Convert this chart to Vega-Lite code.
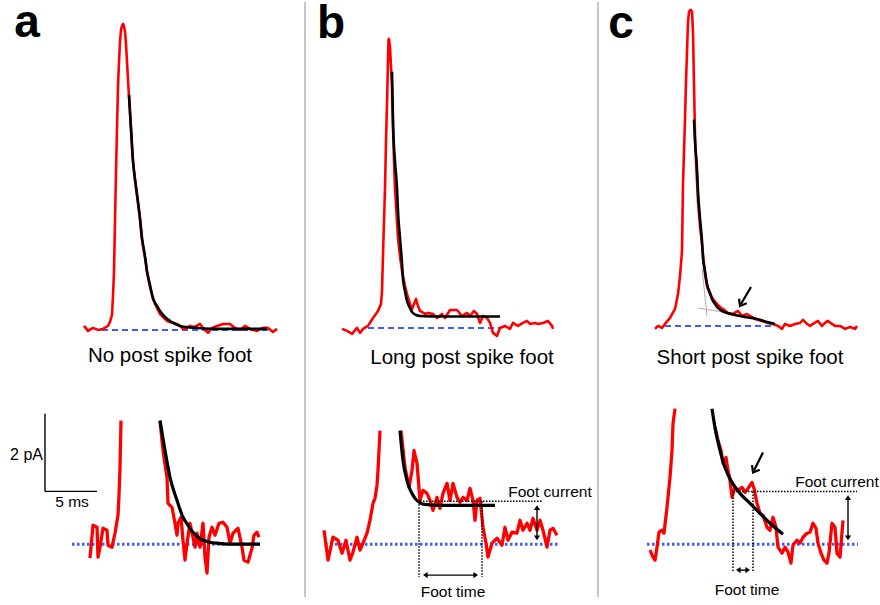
{
  "$schema": "https://vega.github.io/schema/vega-lite/v6.json",
  "width": 880,
  "height": 605,
  "padding": 0,
  "autosize": {"type": "fit", "contains": "padding"},
  "background": "white",
  "config": {"view": {"stroke": null}},
  "datasets": {
    "lines": [
      {"g":"rt","s":"a","x":84,"y":325},{"g":"rt","s":"a","x":88,"y":330},{"g":"rt","s":"a","x":93,"y":327},{"g":"rt","s":"a","x":98,"y":329},{"g":"rt","s":"a","x":103,"y":328},{"g":"rt","s":"a","x":108,"y":325},{"g":"rt","s":"a","x":110,"y":321},{"g":"rt","s":"a","x":112,"y":314},{"g":"rt","s":"a","x":113,"y":295},{"g":"rt","s":"a","x":114,"y":270},{"g":"rt","s":"a","x":115,"y":220},{"g":"rt","s":"a","x":116,"y":170},{"g":"rt","s":"a","x":117,"y":127},{"g":"rt","s":"a","x":118,"y":85},{"g":"rt","s":"a","x":119,"y":60},{"g":"rt","s":"a","x":120,"y":40},{"g":"rt","s":"a","x":121,"y":28},{"g":"rt","s":"a","x":122,"y":24},{"g":"rt","s":"a","x":123,"y":22},{"g":"rt","s":"a","x":124,"y":24},{"g":"rt","s":"a","x":125,"y":30},{"g":"rt","s":"a","x":126,"y":42},{"g":"rt","s":"a","x":127,"y":60},{"g":"rt","s":"a","x":128,"y":78},{"g":"rt","s":"a","x":129,"y":95},{"g":"rt","s":"a","x":131,"y":127},{"g":"rt","s":"a","x":133,"y":160},{"g":"rt","s":"a","x":135,"y":178},{"g":"rt","s":"a","x":137,"y":194},{"g":"rt","s":"a","x":140,"y":218},{"g":"rt","s":"a","x":142,"y":238},{"g":"rt","s":"a","x":145,"y":257},{"g":"rt","s":"a","x":147,"y":271},{"g":"rt","s":"a","x":150,"y":286},{"g":"rt","s":"a","x":153,"y":298},{"g":"rt","s":"a","x":156,"y":305},{"g":"rt","s":"a","x":158,"y":309},{"g":"rt","s":"a","x":160,"y":313},{"g":"rt","s":"a","x":163,"y":316},{"g":"rt","s":"a","x":167,"y":320},{"g":"rt","s":"a","x":170,"y":321},{"g":"rt","s":"a","x":174,"y":322},{"g":"rt","s":"a","x":177,"y":323},{"g":"rt","s":"a","x":180,"y":325},{"g":"rt","s":"a","x":183,"y":328},{"g":"rt","s":"a","x":187,"y":327},{"g":"rt","s":"a","x":190,"y":325},{"g":"rt","s":"a","x":195,"y":326},{"g":"rt","s":"a","x":200,"y":323},{"g":"rt","s":"a","x":203,"y":327},{"g":"rt","s":"a","x":208,"y":332},{"g":"rt","s":"a","x":212,"y":327},{"g":"rt","s":"a","x":217,"y":325},{"g":"rt","s":"a","x":223,"y":323},{"g":"rt","s":"a","x":230,"y":323},{"g":"rt","s":"a","x":235,"y":327},{"g":"rt","s":"a","x":240,"y":329},{"g":"rt","s":"a","x":245,"y":325},{"g":"rt","s":"a","x":250,"y":328},{"g":"rt","s":"a","x":257,"y":330},{"g":"rt","s":"a","x":263,"y":327},{"g":"rt","s":"a","x":268,"y":327},{"g":"rt","s":"a","x":273,"y":331},{"g":"rt","s":"a","x":277,"y":328},

      {"g":"ft","s":"a","x":129,"y":93},{"g":"ft","s":"a","x":131,"y":127},{"g":"ft","s":"a","x":133,"y":160},{"g":"ft","s":"a","x":135,"y":178},{"g":"ft","s":"a","x":137,"y":193},{"g":"ft","s":"a","x":140,"y":217},{"g":"ft","s":"a","x":142,"y":237},{"g":"ft","s":"a","x":145,"y":255},{"g":"ft","s":"a","x":147,"y":270},{"g":"ft","s":"a","x":150,"y":284},{"g":"ft","s":"a","x":153,"y":297},{"g":"ft","s":"a","x":157,"y":305},{"g":"ft","s":"a","x":160,"y":310},{"g":"ft","s":"a","x":165,"y":316},{"g":"ft","s":"a","x":170,"y":320},{"g":"ft","s":"a","x":175,"y":323},{"g":"ft","s":"a","x":180,"y":325},{"g":"ft","s":"a","x":190,"y":326.5},{"g":"ft","s":"a","x":197,"y":327},{"g":"ft","s":"a","x":220,"y":328},{"g":"ft","s":"a","x":267,"y":328},

      {"g":"rt","s":"b","x":342,"y":328},{"g":"rt","s":"b","x":347,"y":330},{"g":"rt","s":"b","x":352,"y":333},{"g":"rt","s":"b","x":357,"y":327},{"g":"rt","s":"b","x":360,"y":332},{"g":"rt","s":"b","x":363,"y":328},{"g":"rt","s":"b","x":368,"y":325},{"g":"rt","s":"b","x":373,"y":317},{"g":"rt","s":"b","x":378,"y":310},{"g":"rt","s":"b","x":381,"y":303},{"g":"rt","s":"b","x":382,"y":290},{"g":"rt","s":"b","x":383,"y":253},{"g":"rt","s":"b","x":384,"y":220},{"g":"rt","s":"b","x":385,"y":187},{"g":"rt","s":"b","x":386,"y":140},{"g":"rt","s":"b","x":387,"y":103},{"g":"rt","s":"b","x":388,"y":60},{"g":"rt","s":"b","x":388.5,"y":38},{"g":"rt","s":"b","x":389,"y":37},{"g":"rt","s":"b","x":390,"y":45},{"g":"rt","s":"b","x":391,"y":65},{"g":"rt","s":"b","x":392,"y":87},{"g":"rt","s":"b","x":393,"y":125},{"g":"rt","s":"b","x":394,"y":160},{"g":"rt","s":"b","x":395,"y":187},{"g":"rt","s":"b","x":397,"y":220},{"g":"rt","s":"b","x":398,"y":237},{"g":"rt","s":"b","x":400,"y":255},{"g":"rt","s":"b","x":402,"y":270},{"g":"rt","s":"b","x":405,"y":285},{"g":"rt","s":"b","x":407,"y":293},{"g":"rt","s":"b","x":410,"y":303},{"g":"rt","s":"b","x":412,"y":308},{"g":"rt","s":"b","x":414,"y":303},{"g":"rt","s":"b","x":416,"y":298},{"g":"rt","s":"b","x":418,"y":305},{"g":"rt","s":"b","x":420,"y":310},{"g":"rt","s":"b","x":425,"y":313},{"g":"rt","s":"b","x":428,"y":312},{"g":"rt","s":"b","x":433,"y":313},{"g":"rt","s":"b","x":437,"y":317},{"g":"rt","s":"b","x":442,"y":313},{"g":"rt","s":"b","x":445,"y":317},{"g":"rt","s":"b","x":450,"y":309},{"g":"rt","s":"b","x":457,"y":309},{"g":"rt","s":"b","x":462,"y":315},{"g":"rt","s":"b","x":467,"y":312},{"g":"rt","s":"b","x":470,"y":315},{"g":"rt","s":"b","x":474,"y":310},{"g":"rt","s":"b","x":477,"y":313},{"g":"rt","s":"b","x":480,"y":322},{"g":"rt","s":"b","x":483,"y":315},{"g":"rt","s":"b","x":487,"y":317},{"g":"rt","s":"b","x":490,"y":322},{"g":"rt","s":"b","x":493,"y":332},{"g":"rt","s":"b","x":497,"y":335},{"g":"rt","s":"b","x":500,"y":327},{"g":"rt","s":"b","x":505,"y":325},{"g":"rt","s":"b","x":510,"y":328},{"g":"rt","s":"b","x":513,"y":322},{"g":"rt","s":"b","x":518,"y":325},{"g":"rt","s":"b","x":523,"y":322},{"g":"rt","s":"b","x":527,"y":320},{"g":"rt","s":"b","x":530,"y":323},{"g":"rt","s":"b","x":535,"y":322},{"g":"rt","s":"b","x":538,"y":323},{"g":"rt","s":"b","x":543,"y":322},{"g":"rt","s":"b","x":548,"y":320},{"g":"rt","s":"b","x":552,"y":325},{"g":"rt","s":"b","x":553,"y":328},

      {"g":"ft","s":"b","x":392,"y":70},{"g":"ft","s":"b","x":393,"y":120},{"g":"ft","s":"b","x":395,"y":160},{"g":"ft","s":"b","x":397,"y":187},{"g":"ft","s":"b","x":398,"y":210},{"g":"ft","s":"b","x":400,"y":237},{"g":"ft","s":"b","x":402,"y":262},{"g":"ft","s":"b","x":403,"y":278},{"g":"ft","s":"b","x":405,"y":290},{"g":"ft","s":"b","x":407,"y":300},{"g":"ft","s":"b","x":410,"y":307},{"g":"ft","s":"b","x":412,"y":311},{"g":"ft","s":"b","x":416,"y":314},{"g":"ft","s":"b","x":420,"y":315},{"g":"ft","s":"b","x":440,"y":315.5},{"g":"ft","s":"b","x":500,"y":315.5},

      {"g":"rt","s":"c","x":655,"y":328},{"g":"rt","s":"c","x":658,"y":325},{"g":"rt","s":"c","x":662,"y":327},{"g":"rt","s":"c","x":665,"y":323},{"g":"rt","s":"c","x":670,"y":317},{"g":"rt","s":"c","x":675,"y":308},{"g":"rt","s":"c","x":678,"y":293},{"g":"rt","s":"c","x":680,"y":275},{"g":"rt","s":"c","x":682,"y":250},{"g":"rt","s":"c","x":683,"y":183},{"g":"rt","s":"c","x":684,"y":150},{"g":"rt","s":"c","x":685,"y":117},{"g":"rt","s":"c","x":686,"y":80},{"g":"rt","s":"c","x":687,"y":50},{"g":"rt","s":"c","x":688,"y":20},{"g":"rt","s":"c","x":689,"y":10},{"g":"rt","s":"c","x":690,"y":8},{"g":"rt","s":"c","x":691,"y":8},{"g":"rt","s":"c","x":692,"y":10},{"g":"rt","s":"c","x":693,"y":30},{"g":"rt","s":"c","x":694,"y":83},{"g":"rt","s":"c","x":695,"y":133},{"g":"rt","s":"c","x":696,"y":160},{"g":"rt","s":"c","x":698,"y":200},{"g":"rt","s":"c","x":700,"y":225},{"g":"rt","s":"c","x":702,"y":243},{"g":"rt","s":"c","x":705,"y":273},{"g":"rt","s":"c","x":707,"y":285},{"g":"rt","s":"c","x":710,"y":293},{"g":"rt","s":"c","x":713,"y":298},{"g":"rt","s":"c","x":717,"y":303},{"g":"rt","s":"c","x":720,"y":306},{"g":"rt","s":"c","x":723,"y":308},{"g":"rt","s":"c","x":728,"y":312},{"g":"rt","s":"c","x":733,"y":313},{"g":"rt","s":"c","x":738,"y":310},{"g":"rt","s":"c","x":742,"y":315},{"g":"rt","s":"c","x":747,"y":313},{"g":"rt","s":"c","x":750,"y":315},{"g":"rt","s":"c","x":755,"y":318},{"g":"rt","s":"c","x":762,"y":320},{"g":"rt","s":"c","x":768,"y":322},{"g":"rt","s":"c","x":773,"y":323},{"g":"rt","s":"c","x":778,"y":325},{"g":"rt","s":"c","x":782,"y":328},{"g":"rt","s":"c","x":785,"y":323},{"g":"rt","s":"c","x":790,"y":325},{"g":"rt","s":"c","x":795,"y":323},{"g":"rt","s":"c","x":800,"y":322},{"g":"rt","s":"c","x":803,"y":319},{"g":"rt","s":"c","x":807,"y":323},{"g":"rt","s":"c","x":810,"y":325},{"g":"rt","s":"c","x":813,"y":323},{"g":"rt","s":"c","x":818,"y":320},{"g":"rt","s":"c","x":822,"y":325},{"g":"rt","s":"c","x":825,"y":322},{"g":"rt","s":"c","x":828,"y":320},{"g":"rt","s":"c","x":832,"y":323},{"g":"rt","s":"c","x":835,"y":325},{"g":"rt","s":"c","x":840,"y":325},{"g":"rt","s":"c","x":845,"y":328},{"g":"rt","s":"c","x":850,"y":326},{"g":"rt","s":"c","x":855,"y":328},{"g":"rt","s":"c","x":857,"y":325},

      {"g":"ft","s":"c","x":694,"y":118},{"g":"ft","s":"c","x":695,"y":140},{"g":"ft","s":"c","x":697,"y":167},{"g":"ft","s":"c","x":698,"y":190},{"g":"ft","s":"c","x":700,"y":217},{"g":"ft","s":"c","x":702,"y":240},{"g":"ft","s":"c","x":703,"y":257},{"g":"ft","s":"c","x":705,"y":270},{"g":"ft","s":"c","x":707,"y":283},{"g":"ft","s":"c","x":710,"y":292},{"g":"ft","s":"c","x":712,"y":298},{"g":"ft","s":"c","x":715,"y":303},{"g":"ft","s":"c","x":718,"y":307},{"g":"ft","s":"c","x":722,"y":310},{"g":"ft","s":"c","x":727,"y":312},{"g":"ft","s":"c","x":733,"y":313.5},{"g":"ft","s":"c","x":740,"y":315},{"g":"ft","s":"c","x":748,"y":316.5},{"g":"ft","s":"c","x":757,"y":318},{"g":"ft","s":"c","x":765,"y":320.5},{"g":"ft","s":"c","x":775,"y":323},

      {"g":"rb","s":"aL","x":90,"y":558},{"g":"rb","s":"aL","x":93,"y":525},{"g":"rb","s":"aL","x":97,"y":527},{"g":"rb","s":"aL","x":98,"y":557},{"g":"rb","s":"aL","x":100,"y":547},{"g":"rb","s":"aL","x":103,"y":528},{"g":"rb","s":"aL","x":107,"y":530},{"g":"rb","s":"aL","x":108,"y":545},{"g":"rb","s":"aL","x":112,"y":547},{"g":"rb","s":"aL","x":115,"y":533},{"g":"rb","s":"aL","x":118,"y":515},{"g":"rb","s":"aL","x":119,"y":495},{"g":"rb","s":"aL","x":120,"y":467},{"g":"rb","s":"aL","x":121,"y":420},
      {"g":"rb","s":"aR","x":160,"y":420},{"g":"rb","s":"aR","x":163,"y":450},{"g":"rb","s":"aR","x":167,"y":477},{"g":"rb","s":"aR","x":168,"y":503},{"g":"rb","s":"aR","x":172,"y":507},{"g":"rb","s":"aR","x":175,"y":523},{"g":"rb","s":"aR","x":177,"y":535},{"g":"rb","s":"aR","x":178,"y":523},{"g":"rb","s":"aR","x":181,"y":517},{"g":"rb","s":"aR","x":183,"y":540},{"g":"rb","s":"aR","x":185,"y":560},{"g":"rb","s":"aR","x":187,"y":543},{"g":"rb","s":"aR","x":190,"y":523},{"g":"rb","s":"aR","x":193,"y":537},{"g":"rb","s":"aR","x":195,"y":547},{"g":"rb","s":"aR","x":197,"y":533},{"g":"rb","s":"aR","x":200,"y":547},{"g":"rb","s":"aR","x":203,"y":523},{"g":"rb","s":"aR","x":205,"y":557},{"g":"rb","s":"aR","x":207,"y":573},{"g":"rb","s":"aR","x":209,"y":537},{"g":"rb","s":"aR","x":212,"y":527},{"g":"rb","s":"aR","x":215,"y":535},{"g":"rb","s":"aR","x":219,"y":523},{"g":"rb","s":"aR","x":223,"y":522},{"g":"rb","s":"aR","x":227,"y":527},{"g":"rb","s":"aR","x":230,"y":543},{"g":"rb","s":"aR","x":233,"y":533},{"g":"rb","s":"aR","x":238,"y":528},{"g":"rb","s":"aR","x":242,"y":547},{"g":"rb","s":"aR","x":244,"y":560},{"g":"rb","s":"aR","x":248,"y":562},{"g":"rb","s":"aR","x":252,"y":548},{"g":"rb","s":"aR","x":254,"y":535},{"g":"rb","s":"aR","x":257,"y":532},{"g":"rb","s":"aR","x":259,"y":537},

      {"g":"fb","s":"a","x":160,"y":420},{"g":"fb","s":"a","x":165,"y":450},{"g":"fb","s":"a","x":170,"y":477},{"g":"fb","s":"a","x":177,"y":500},{"g":"fb","s":"a","x":183,"y":517},{"g":"fb","s":"a","x":188,"y":525},{"g":"fb","s":"a","x":193,"y":532},{"g":"fb","s":"a","x":198,"y":537},{"g":"fb","s":"a","x":203,"y":540},{"g":"fb","s":"a","x":210,"y":542},{"g":"fb","s":"a","x":217,"y":543},{"g":"fb","s":"a","x":230,"y":544},{"g":"fb","s":"a","x":260,"y":544},

      {"g":"rb","s":"bL","x":324,"y":530},{"g":"rb","s":"bL","x":328,"y":560},{"g":"rb","s":"bL","x":333,"y":537},{"g":"rb","s":"bL","x":338,"y":540},{"g":"rb","s":"bL","x":342,"y":553},{"g":"rb","s":"bL","x":346,"y":540},{"g":"rb","s":"bL","x":350,"y":560},{"g":"rb","s":"bL","x":353,"y":552},{"g":"rb","s":"bL","x":357,"y":537},{"g":"rb","s":"bL","x":360,"y":550},{"g":"rb","s":"bL","x":363,"y":543},{"g":"rb","s":"bL","x":367,"y":533},{"g":"rb","s":"bL","x":370,"y":520},{"g":"rb","s":"bL","x":373,"y":503},{"g":"rb","s":"bL","x":375,"y":498},{"g":"rb","s":"bL","x":377,"y":485},{"g":"rb","s":"bL","x":378,"y":470},{"g":"rb","s":"bL","x":379,"y":450},{"g":"rb","s":"bL","x":380,"y":430},
      {"g":"rb","s":"bR","x":401,"y":430},{"g":"rb","s":"bR","x":405,"y":467},{"g":"rb","s":"bR","x":409,"y":487},{"g":"rb","s":"bR","x":412,"y":470},{"g":"rb","s":"bR","x":414,"y":450},{"g":"rb","s":"bR","x":417,"y":463},{"g":"rb","s":"bR","x":420,"y":500},{"g":"rb","s":"bR","x":423,"y":490},{"g":"rb","s":"bR","x":427,"y":493},{"g":"rb","s":"bR","x":430,"y":500},{"g":"rb","s":"bR","x":433,"y":510},{"g":"rb","s":"bR","x":437,"y":497},{"g":"rb","s":"bR","x":440,"y":508},{"g":"rb","s":"bR","x":443,"y":493},{"g":"rb","s":"bR","x":447,"y":483},{"g":"rb","s":"bR","x":450,"y":500},{"g":"rb","s":"bR","x":453,"y":483},{"g":"rb","s":"bR","x":457,"y":497},{"g":"rb","s":"bR","x":460,"y":502},{"g":"rb","s":"bR","x":463,"y":497},{"g":"rb","s":"bR","x":467,"y":500},{"g":"rb","s":"bR","x":470,"y":488},{"g":"rb","s":"bR","x":473,"y":500},{"g":"rb","s":"bR","x":475,"y":520},{"g":"rb","s":"bR","x":477,"y":500},{"g":"rb","s":"bR","x":480,"y":498},{"g":"rb","s":"bR","x":483,"y":527},{"g":"rb","s":"bR","x":486,"y":543},{"g":"rb","s":"bR","x":488,"y":557},{"g":"rb","s":"bR","x":492,"y":543},{"g":"rb","s":"bR","x":497,"y":538},{"g":"rb","s":"bR","x":502,"y":545},{"g":"rb","s":"bR","x":505,"y":527},{"g":"rb","s":"bR","x":508,"y":540},{"g":"rb","s":"bR","x":512,"y":532},{"g":"rb","s":"bR","x":517,"y":533},{"g":"rb","s":"bR","x":520,"y":520},{"g":"rb","s":"bR","x":523,"y":530},{"g":"rb","s":"bR","x":527,"y":523},{"g":"rb","s":"bR","x":530,"y":530},{"g":"rb","s":"bR","x":533,"y":518},{"g":"rb","s":"bR","x":537,"y":530},{"g":"rb","s":"bR","x":540,"y":520},{"g":"rb","s":"bR","x":543,"y":530},{"g":"rb","s":"bR","x":547,"y":547},{"g":"rb","s":"bR","x":550,"y":530},{"g":"rb","s":"bR","x":553,"y":528},{"g":"rb","s":"bR","x":557,"y":535},

      {"g":"fb","s":"b","x":400,"y":430},{"g":"fb","s":"b","x":403,"y":460},{"g":"fb","s":"b","x":407,"y":480},{"g":"fb","s":"b","x":410,"y":489},{"g":"fb","s":"b","x":412,"y":493},{"g":"fb","s":"b","x":415,"y":498},{"g":"fb","s":"b","x":418,"y":501},{"g":"fb","s":"b","x":421,"y":503},{"g":"fb","s":"b","x":425,"y":504},{"g":"fb","s":"b","x":440,"y":505},{"g":"fb","s":"b","x":495,"y":505},

      {"g":"rb","s":"cL","x":650,"y":550},{"g":"rb","s":"cL","x":653,"y":557},{"g":"rb","s":"cL","x":655,"y":560},{"g":"rb","s":"cL","x":657,"y":547},{"g":"rb","s":"cL","x":659,"y":532},{"g":"rb","s":"cL","x":662,"y":530},{"g":"rb","s":"cL","x":664,"y":533},{"g":"rb","s":"cL","x":667,"y":507},{"g":"rb","s":"cL","x":670,"y":477},{"g":"rb","s":"cL","x":672,"y":450},{"g":"rb","s":"cL","x":673,"y":423},{"g":"rb","s":"cL","x":675,"y":408},
      {"g":"rb","s":"cR","x":715,"y":427},{"g":"rb","s":"cR","x":718,"y":440},{"g":"rb","s":"cR","x":721,"y":450},{"g":"rb","s":"cR","x":723,"y":463},{"g":"rb","s":"cR","x":726,"y":457},{"g":"rb","s":"cR","x":728,"y":470},{"g":"rb","s":"cR","x":730,"y":480},{"g":"rb","s":"cR","x":732,"y":497},{"g":"rb","s":"cR","x":735,"y":487},{"g":"rb","s":"cR","x":738,"y":490},{"g":"rb","s":"cR","x":742,"y":487},{"g":"rb","s":"cR","x":745,"y":492},{"g":"rb","s":"cR","x":748,"y":488},{"g":"rb","s":"cR","x":752,"y":482},{"g":"rb","s":"cR","x":754,"y":488},{"g":"rb","s":"cR","x":757,"y":503},{"g":"rb","s":"cR","x":760,"y":513},{"g":"rb","s":"cR","x":763,"y":515},{"g":"rb","s":"cR","x":767,"y":527},{"g":"rb","s":"cR","x":770,"y":530},{"g":"rb","s":"cR","x":773,"y":517},{"g":"rb","s":"cR","x":776,"y":527},{"g":"rb","s":"cR","x":778,"y":547},{"g":"rb","s":"cR","x":782,"y":553},{"g":"rb","s":"cR","x":785,"y":547},{"g":"rb","s":"cR","x":788,"y":552},{"g":"rb","s":"cR","x":791,"y":563},{"g":"rb","s":"cR","x":793,"y":545},{"g":"rb","s":"cR","x":797,"y":540},{"g":"rb","s":"cR","x":800,"y":543},{"g":"rb","s":"cR","x":803,"y":537},{"g":"rb","s":"cR","x":807,"y":533},{"g":"rb","s":"cR","x":810,"y":532},{"g":"rb","s":"cR","x":813,"y":523},{"g":"rb","s":"cR","x":816,"y":528},{"g":"rb","s":"cR","x":818,"y":543},{"g":"rb","s":"cR","x":821,"y":553},{"g":"rb","s":"cR","x":824,"y":560},{"g":"rb","s":"cR","x":827,"y":563},{"g":"rb","s":"cR","x":829,"y":553},{"g":"rb","s":"cR","x":832,"y":523},{"g":"rb","s":"cR","x":835,"y":527},{"g":"rb","s":"cR","x":837,"y":553},{"g":"rb","s":"cR","x":840,"y":557},{"g":"rb","s":"cR","x":843,"y":520},

      {"g":"fb","s":"c","x":712,"y":408},{"g":"fb","s":"c","x":715,"y":427},{"g":"fb","s":"c","x":720,"y":450},{"g":"fb","s":"c","x":725,"y":467},{"g":"fb","s":"c","x":732,"y":482},{"g":"fb","s":"c","x":740,"y":493},{"g":"fb","s":"c","x":750,"y":503},{"g":"fb","s":"c","x":760,"y":513},{"g":"fb","s":"c","x":770,"y":523},{"g":"fb","s":"c","x":783,"y":534}
    ],
    "segs": [
      {"k":"sep","x":305,"y":0,"x2":305,"y2":597},
      {"k":"sep","x":598,"y":0,"x2":598,"y2":597},
      {"k":"dash","x":102,"y":329,"x2":270,"y2":329},
      {"k":"dash","x":368,"y":327,"x2":500,"y2":327},
      {"k":"dash","x":665,"y":325,"x2":775,"y2":325},
      {"k":"dot","x":72,"y":544,"x2":260,"y2":544},
      {"k":"dot","x":325,"y":544,"x2":558,"y2":544},
      {"k":"dot","x":647,"y":544,"x2":858,"y2":544},
      {"k":"tan","x":702,"y":267,"x2":707,"y2":315},
      {"k":"tan","x":698,"y":307,"x2":728,"y2":312},
      {"k":"solid","x":45,"y":413,"x2":45,"y2":491},
      {"k":"solid","x":45,"y":491,"x2":97,"y2":491},
      {"k":"solid","x":425,"y":575,"x2":476,"y2":575},
      {"k":"solid","x":537,"y":507,"x2":537,"y2":538},
      {"k":"solid","x":738,"y":570,"x2":748,"y2":570},
      {"k":"solid","x":848,"y":497,"x2":848,"y2":538},
      {"k":"thick","x":751,"y":286,"x2":741,"y2":303},
      {"k":"thick","x":763,"y":452,"x2":754,"y2":470},
      {"k":"guide","x":420,"y":501,"x2":542,"y2":501},
      {"k":"guide","x":419,"y":501,"x2":419,"y2":577},
      {"k":"guide","x":482,"y":501,"x2":482,"y2":577},
      {"k":"guide","x":733,"y":491,"x2":857,"y2":491},
      {"k":"guide","x":733,"y":491,"x2":733,"y2":572},
      {"k":"guide","x":753,"y":491,"x2":753,"y2":572}
    ],
    "heads": [
      {"x":423,"y":575,"dir":"left"},{"x":478,"y":575,"dir":"right"},
      {"x":537,"y":505,"dir":"up"},{"x":537,"y":540,"dir":"down"},
      {"x":736,"y":570,"dir":"left"},{"x":750,"y":570,"dir":"right"},
      {"x":848,"y":495,"dir":"up"},{"x":848,"y":540,"dir":"down"},
      {"x":740,"y":305,"dir":"downleft"},{"x":753,"y":472,"dir":"downleft"}
    ],
    "texts": [
      {"k":"letter","t":"a","x":27,"y":35},
      {"k":"letter","t":"b","x":331,"y":36},
      {"k":"letter","t":"c","x":621,"y":36},
      {"k":"label","t":"No post spike foot","x":170,"y":355},
      {"k":"label","t":"Long post spike foot","x":462,"y":357},
      {"k":"label","t":"Short post spike foot","x":750,"y":357},
      {"k":"small","t":"Foot current","x":550,"y":492},
      {"k":"small","t":"Foot time","x":453,"y":592},
      {"k":"small","t":"Foot current","x":837,"y":482},
      {"k":"small","t":"Foot time","x":747,"y":590},
      {"k":"small","t":"5 ms","x":72,"y":502},
      {"k":"smallR","t":"2 pA","x":43,"y":455}
    ]
  },
  "encoding": {
    "x": {"field": "x", "type": "quantitative", "scale": {"domain": [0, 880], "nice": false, "zero": false}, "axis": null},
    "y": {"field": "y", "type": "quantitative", "scale": {"domain": [0, 605], "nice": false, "zero": false, "reverse": true}, "axis": null}
  },
  "layer": [
    {"data": {"name": "segs"}, "transform": [{"filter": "datum.k === 'sep'"}],
     "mark": {"type": "rule", "color": "#8c8c8c", "strokeWidth": 1},
     "encoding": {"x2": {"field": "x2"}, "y2": {"field": "y2"}}},
    {"data": {"name": "segs"}, "transform": [{"filter": "datum.k === 'dash'"}],
     "mark": {"type": "rule", "color": "#3d5cff", "strokeWidth": 2, "strokeDash": [6, 4]},
     "encoding": {"x2": {"field": "x2"}, "y2": {"field": "y2"}}},
    {"data": {"name": "segs"}, "transform": [{"filter": "datum.k === 'dot'"}],
     "mark": {"type": "rule", "color": "#3d5cff", "strokeWidth": 3, "strokeDash": [2.5, 2.5]},
     "encoding": {"x2": {"field": "x2"}, "y2": {"field": "y2"}}},
    {"data": {"name": "segs"}, "transform": [{"filter": "datum.k === 'tan'"}],
     "mark": {"type": "rule", "color": "#b0b0b0", "strokeWidth": 1},
     "encoding": {"x2": {"field": "x2"}, "y2": {"field": "y2"}}},
    {"data": {"name": "lines"}, "transform": [{"filter": "datum.g === 'rt'"}],
     "mark": {"type": "line", "color": "#ff0000", "strokeWidth": 2.6, "strokeJoin": "round"},
     "encoding": {"detail": {"field": "s"}}},
    {"data": {"name": "lines"}, "transform": [{"filter": "datum.g === 'rb'"}],
     "mark": {"type": "line", "color": "#ff0000", "strokeWidth": 3.3, "strokeJoin": "round"},
     "encoding": {"detail": {"field": "s"}}},
    {"data": {"name": "lines"}, "transform": [{"filter": "datum.g === 'ft'"}],
     "mark": {"type": "line", "color": "#000000", "strokeWidth": 2.6, "interpolate": "monotone"},
     "encoding": {"detail": {"field": "s"}}},
    {"data": {"name": "lines"}, "transform": [{"filter": "datum.g === 'fb'"}],
     "mark": {"type": "line", "color": "#000000", "strokeWidth": 3.2, "interpolate": "monotone"},
     "encoding": {"detail": {"field": "s"}}},
    {"data": {"name": "segs"}, "transform": [{"filter": "datum.k === 'guide'"}],
     "mark": {"type": "rule", "color": "#000000", "strokeWidth": 1.5, "strokeDash": [1.5, 1.5]},
     "encoding": {"x2": {"field": "x2"}, "y2": {"field": "y2"}}},
    {"data": {"name": "segs"}, "transform": [{"filter": "datum.k === 'solid'"}],
     "mark": {"type": "rule", "color": "#000000", "strokeWidth": 1.4},
     "encoding": {"x2": {"field": "x2"}, "y2": {"field": "y2"}}},
    {"data": {"name": "segs"}, "transform": [{"filter": "datum.k === 'thick'"}],
     "mark": {"type": "rule", "color": "#000000", "strokeWidth": 2.2},
     "encoding": {"x2": {"field": "x2"}, "y2": {"field": "y2"}}},
    {"data": {"name": "heads"}, "transform": [{"filter": "datum.dir === 'up'"}],
     "mark": {"type": "point", "shape": "M-0.75,1.1L0,0L0.75,1.1Z", "filled": true, "color": "#000000", "size": 70, "opacity": 1, "angle": 0},
     "encoding": {}},
    {"data": {"name": "heads"}, "transform": [{"filter": "datum.dir === 'right'"}],
     "mark": {"type": "point", "shape": "M-0.75,1.1L0,0L0.75,1.1Z", "filled": true, "color": "#000000", "size": 70, "opacity": 1, "angle": 90},
     "encoding": {}},
    {"data": {"name": "heads"}, "transform": [{"filter": "datum.dir === 'down'"}],
     "mark": {"type": "point", "shape": "M-0.75,1.1L0,0L0.75,1.1Z", "filled": true, "color": "#000000", "size": 70, "opacity": 1, "angle": 180},
     "encoding": {}},
    {"data": {"name": "heads"}, "transform": [{"filter": "datum.dir === 'left'"}],
     "mark": {"type": "point", "shape": "M-0.75,1.1L0,0L0.75,1.1Z", "filled": true, "color": "#000000", "size": 70, "opacity": 1, "angle": 270},
     "encoding": {}},
    {"data": {"name": "heads"}, "transform": [{"filter": "datum.dir === 'downleft'"}],
     "mark": {"type": "point", "shape": "M-0.85,1.1L0,0L0.85,1.1", "filled": false, "stroke": "#000000", "strokeWidth": 2.2, "size": 110, "opacity": 1, "angle": 210},
     "encoding": {}},
    {"data": {"name": "texts"}, "transform": [{"filter": "datum.k === 'letter'"}],
     "mark": {"type": "text", "font": "Liberation Sans", "fontWeight": "bold", "fontSize": 46, "align": "center", "baseline": "alphabetic", "color": "#000000"},
     "encoding": {"text": {"field": "t"}}},
    {"data": {"name": "texts"}, "transform": [{"filter": "datum.k === 'label'"}],
     "mark": {"type": "text", "font": "Liberation Sans", "fontSize": 20.5, "align": "center", "baseline": "middle", "color": "#000000"},
     "encoding": {"text": {"field": "t"}}},
    {"data": {"name": "texts"}, "transform": [{"filter": "datum.k === 'small'"}],
     "mark": {"type": "text", "font": "Liberation Sans", "fontSize": 15.5, "align": "center", "baseline": "middle", "color": "#000000"},
     "encoding": {"text": {"field": "t"}}},
    {"data": {"name": "texts"}, "transform": [{"filter": "datum.k === 'smallR'"}],
     "mark": {"type": "text", "font": "Liberation Sans", "fontSize": 16, "align": "right", "baseline": "middle", "color": "#000000"},
     "encoding": {"text": {"field": "t"}}}
  ]
}
